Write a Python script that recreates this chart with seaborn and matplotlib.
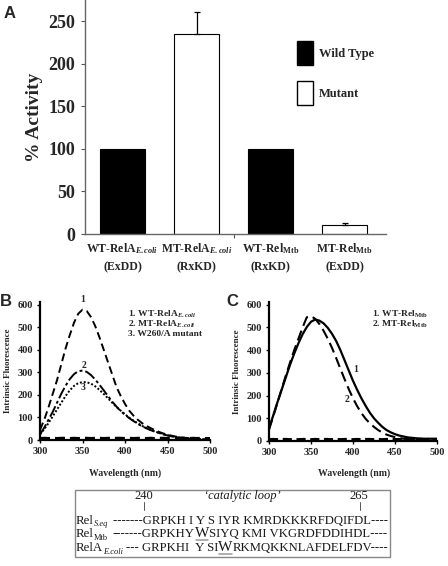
import matplotlib
matplotlib.use("Agg")
import matplotlib.pyplot as plt
import seaborn as sns
import pandas as pd
from matplotlib.patches import Rectangle, Patch
from matplotlib.lines import Line2D

# ---------------- data ----------------
# Panel A
categories = ["WT-RelA E.coli", "MT-RelA E.coli", "WT-Rel Mtb", "MT-Rel Mtb"]
activity = [100, 235, 100, 10]
activity_err = [0, 26, 0, 2.5]
kind = ["Wild Type", "Mutant", "Wild Type", "Mutant"]
tick_labels = [r"WT-RelA$_{\mathit{E.coli}}$" + "\n(ExDD)",
               r"MT-RelA$_{\mathit{E.coli}}$" + "\n(RxKD)",
               r"WT-Rel$_{\mathrm{Mtb}}$" + "\n(RxKD)",
               r"MT-Rel$_{\mathrm{Mtb}}$" + "\n(ExDD)"]
yticks_a = [0, 50, 100, 150, 200, 250]

# Panels B and C
wavelength = [300, 305, 310, 315, 320, 325, 330, 335, 340, 345, 350, 355, 360, 365,
              370, 375, 380, 385, 390, 395, 400, 405, 410, 415, 420, 425, 430, 435,
              440, 445, 450, 455, 460, 465, 470, 475, 480, 485, 490, 495, 500]
b_wt = [45, 90, 145, 205, 265, 335, 405, 465, 520, 560, 578, 572, 545, 505,
        455, 400, 345, 290, 235, 195, 160, 130, 108, 90, 75, 63, 53, 44,
        36, 29, 24, 19, 15, 12, 10, 8, 6, 5, 4, 3, 3]
b_mt = [25, 55, 90, 125, 165, 205, 240, 270, 292, 305, 308, 302, 288, 268,
        245, 220, 195, 170, 148, 128, 112, 97, 84, 72, 61, 52, 44, 37,
        31, 25, 20, 16, 13, 10, 8, 6, 5, 4, 3, 3, 2]
b_w260a = [25, 48, 75, 105, 135, 165, 195, 220, 240, 252, 257, 256, 250, 238,
           222, 204, 185, 165, 147, 130, 114, 99, 86, 74, 63, 54, 45, 38,
           32, 26, 21, 17, 13, 10, 8, 6, 5, 4, 3, 3, 2]
b_buffer = [6, 7, 6, 7, 6, 7, 7, 6, 7, 6, 7, 7, 6, 7,
            7, 6, 7, 6, 7, 7, 6, 7, 6, 7, 7, 6, 7, 6,
            7, 7, 6, 7, 6, 7, 7, 6, 7, 6, 7, 6, 6]
c_wt = [55, 112, 170, 225, 280, 335, 385, 430, 470, 502, 525, 535, 530, 518,
        498, 472, 440, 400, 355, 310, 265, 225, 188, 155, 125, 100, 80, 62,
        48, 38, 30, 24, 20, 16, 14, 12, 11, 10, 10, 10, 10]
c_mt = [50, 108, 168, 228, 288, 345, 400, 450, 500, 545, 550, 538, 515, 485,
        450, 410, 365, 318, 272, 228, 188, 153, 123, 98, 78, 62, 48, 37,
        28, 22, 17, 13, 10, 8, 6, 5, 4, 4, 3, 3, 3]
c_buffer = [6, 7, 6, 7, 7, 6, 7, 6, 7, 7, 6, 7, 6, 7,
            7, 6, 7, 6, 7, 7, 6, 7, 6, 7, 7, 6, 7, 6,
            7, 7, 6, 7, 6, 7, 7, 6, 7, 6, 7, 6, 6]
fluor_yticks = [0, 100, 200, 300, 400, 500, 600]
wl_ticks = [300, 350, 400, 450, 500]

# ---------------- style ----------------
sns.set_theme(style="white")
plt.rcParams["font.family"] = ["Liberation Serif", "DejaVu Serif"]
plt.rcParams["font.weight"] = "bold"
plt.rcParams["mathtext.fontset"] = "custom"
plt.rcParams["mathtext.rm"] = "Liberation Serif:bold"
plt.rcParams["mathtext.it"] = "Liberation Serif:italic:bold"
plt.rcParams["mathtext.bf"] = "Liberation Serif:bold"

W, H = 448, 566
fig = plt.figure(figsize=(W / 100, H / 100), dpi=100)


def rect(x0, y0, x1, y1):
    return [x0 / W, 1 - y1 / H, (x1 - x0) / W, (y1 - y0) / H]


def fx(x):
    return x / W


def fy(y):
    return 1 - y / H


# ---------------- Panel A ----------------
axA = fig.add_axes(rect(85, 0, 386, 234))
dfA = pd.DataFrame({"cat": categories, "act": activity, "kind": kind})
sns.barplot(data=dfA, x="cat", y="act", hue="kind",
            palette={"Wild Type": "black", "Mutant": "white"},
            edgecolor="black", linewidth=0.8, width=0.6, dodge=False,
            legend=False, ax=axA)
err_idx = [i for i, e in enumerate(activity_err) if e > 0]
axA.errorbar(err_idx, [activity[i] for i in err_idx],
             yerr=[[0] * len(err_idx), [activity_err[i] for i in err_idx]],
             fmt="none", ecolor="black", elinewidth=0.9, capsize=2.5, capthick=0.9)
axA.set_xlim(-0.507, 3.56)
axA.set_ylim(0, 275)
axA.set_yticks(yticks_a)
axA.set_yticklabels([str(v) for v in yticks_a], fontsize=13, fontweight="bold")
axA.set_xticks(range(len(categories)))
axA.set_xticklabels(tick_labels, fontsize=8.5, fontweight="bold", linespacing=1.6)
axA.set_xticks([1.5], minor=True)
axA.tick_params(axis="x", which="major", length=0, pad=5)
axA.tick_params(axis="x", which="minor", length=3, width=0.8, color="#555555", direction="out", bottom=True)
axA.tick_params(axis="y", length=3, width=0.8, color="#555555", direction="out", left=True, pad=4)
axA.set_xlabel("")
axA.set_ylabel("% Activity", fontsize=14, fontweight="bold", labelpad=4)
for s in ["top", "right"]:
    axA.spines[s].set_visible(False)
for s in ["left", "bottom"]:
    axA.spines[s].set_color("#666666")
    axA.spines[s].set_linewidth(1.0)
axA.legend(handles=[Patch(facecolor="black", edgecolor="black", label="Wild Type"),
                    Patch(facecolor="white", edgecolor="black", label="Mutant")],
           loc="upper left", bbox_to_anchor=(fx(297), fy(41)), bbox_transform=fig.transFigure,
           frameon=False, borderpad=0, borderaxespad=0, handlelength=1.28, handleheight=2.58,
           handletextpad=0.5, labelspacing=1.3, prop={"size": 9, "weight": "bold"})
fig.text(fx(4), fy(14), "A", fontsize=12, fontweight="bold", family="Liberation Sans", va="center")


# ---------------- Panels B, C ----------------
def style_fluor(ax):
    ax.set_xlim(300, 500)
    ax.set_ylim(0, 612)
    ax.set_xticks(wl_ticks)
    ax.set_yticks(fluor_yticks)
    ax.set_xticklabels([str(v) for v in wl_ticks], fontsize=7.5, fontweight="bold")
    ax.set_yticklabels([str(v) for v in fluor_yticks], fontsize=7.5, fontweight="bold")
    ax.tick_params(axis="both", length=2, width=1, color="black", direction="out",
                   left=True, bottom=True, pad=3)
    for s in ["top", "right"]:
        ax.spines[s].set_visible(False)
    for s in ["left", "bottom"]:
        ax.spines[s].set_color("black")
        ax.spines[s].set_linewidth(1.6)
    ax.set_xlabel("")
    ax.set_ylabel("Intrinsic Fluorescence", fontsize=6.5, fontweight="bold", labelpad=4)


axB = fig.add_axes(rect(40, 302, 210, 440))
sns.lineplot(x=wavelength, y=b_buffer, ax=axB, color="black", linestyle=(0, (3, 1.5)), linewidth=2.4)
sns.lineplot(x=wavelength, y=b_wt, ax=axB, color="black", linestyle=(0, (4, 2.2)), linewidth=1.4)
sns.lineplot(x=wavelength, y=b_mt, ax=axB, color="black", linestyle=(0, (6, 1.5, 1.5, 1.5)), linewidth=1.4)
sns.lineplot(x=wavelength, y=b_w260a, ax=axB, color="black", linestyle=(0, (1, 1)), linewidth=1.4)
style_fluor(axB)
fig.text(fx(0), fy(301), "B", fontsize=12, fontweight="bold", family="Liberation Sans", va="center")
for i, t in enumerate(["1. WT-RelA$_{\\mathit{E.coli}}$", "2. MT-RelA$_{\\mathit{E.coli}}$", "3. W260/A mutant"]):
    fig.text(fx(128), fy(314 + 10.2 * i), t, fontsize=6.8, fontweight="bold", va="center")
fig.text(fx(83), fy(300), "1", fontsize=7, fontweight="bold", ha="center", va="center")
fig.text(fx(84), fy(366), "2", fontsize=7, fontweight="bold", ha="center", va="center")
fig.text(fx(83), fy(387), "3", fontsize=7, fontweight="bold", ha="center", va="center")
fig.text(fx(125), fy(473), "Wavelength (nm)", fontsize=7, fontweight="bold", ha="center", va="center")

axC = fig.add_axes(rect(269, 302, 437, 441))
sns.lineplot(x=wavelength, y=c_buffer, ax=axC, color="black", linestyle=(0, (3, 1.5)), linewidth=2.2)
sns.lineplot(x=wavelength, y=c_wt, ax=axC, color="black", linestyle="-", linewidth=1.6)
sns.lineplot(x=wavelength, y=c_mt, ax=axC, color="black", linestyle=(0, (5, 2.5)), linewidth=1.5)
style_fluor(axC)
fig.text(fx(226), fy(301), "C", fontsize=12, fontweight="bold", family="Liberation Sans", va="center")
for i, t in enumerate(["1. WT-Rel$_{\\mathrm{Mtb}}$", "2. MT-Rel$_{\\mathrm{Mtb}}$"]):
    fig.text(fx(372), fy(314 + 10.5 * i), t, fontsize=6.8, fontweight="bold", va="center")
fig.text(fx(356), fy(370), "1", fontsize=7, fontweight="bold", ha="center", va="center")
fig.text(fx(347), fy(400), "2", fontsize=7, fontweight="bold", ha="center", va="center")
fig.text(fx(354), fy(473), "Wavelength (nm)", fontsize=7, fontweight="bold", ha="center", va="center")

# ---------------- sequence box ----------------
fig.add_artist(Rectangle((fx(75), fy(557)), (390 - 75) / W, (557 - 490) / H,
                         transform=fig.transFigure, facecolor="none", edgecolor="#888888", linewidth=1.0))
seq_kw = dict(fontsize=9, fontweight="normal", color="#1a1a1a", va="baseline")
fig.text(fx(144), fy(499), "240", **seq_kw, ha="center")
fig.text(fx(242), fy(499), "\u2018catalytic loop\u2019", fontsize=9, fontweight="normal",
         style="italic", color="#1a1a1a", va="baseline", ha="center")
fig.text(fx(359), fy(499), "265", **seq_kw, ha="center")
fig.add_artist(Line2D([fx(143.5), fx(143.5)], [fy(502), fy(510)], transform=fig.transFigure,
                      color="#555555", linewidth=0.7))
fig.add_artist(Line2D([fx(359.5), fx(359.5)], [fy(502), fy(510)], transform=fig.transFigure,
                      color="#555555", linewidth=0.7))

renderer = fig.canvas.get_renderer()


def chain(x, y, parts):
    """parts: list of (text, fontsize, style, dy, underline)"""
    for txt, fs, st, dy, ul in parts:
        t = fig.text(fx(x), fy(y + dy), txt, fontsize=fs, fontweight="normal", style=st,
                     color="#1a1a1a", va="baseline", ha="left")
        bb = t.get_window_extent(renderer)
        if ul:
            fig.add_artist(Line2D([bb.x0 / W + 0.002, bb.x1 / W - 0.002], [fy(y + 2.5), fy(y + 2.5)],
                                  transform=fig.transFigure, color="#999999", linewidth=1.1))
        x = bb.x1 * W / fig.bbox.width


rows = [
    (524, [("Rel", 9.3, "normal", 0, False), ("S.eq", 6, "italic", 2.5, False)],
     [("-------GRPKH I Y S IYR KMRDKKKRFDQIFDL----", 9.2, "normal", 0, False)], 113),
    (537, [("Rel", 9.3, "normal", 0, False), ("Mtb", 6, "normal", 2.5, False)],
     [("-------GRPKHY", 9.2, "normal", 0, False), ("W", 11, "normal", 0, True),
      ("SIYQ KMI VKGRDFDDIHDL----", 9.2, "normal", 0, False)], 113),
    (551, [("RelA", 9.3, "normal", 0, False), ("E.coli", 6, "italic", 2.5, False)],
     [("--- GRPKHI  Y SI", 9.2, "normal", 0, False), ("W", 11, "normal", 0, True),
      ("RKMQKKNLAFDELFDV----", 9.2, "normal", 0, False)], 126),
]
for y, name_parts, seq_parts, sx in rows:
    chain(76, y, name_parts)
    chain(sx, y, seq_parts)

fig.savefig("out.png", dpi=100)
